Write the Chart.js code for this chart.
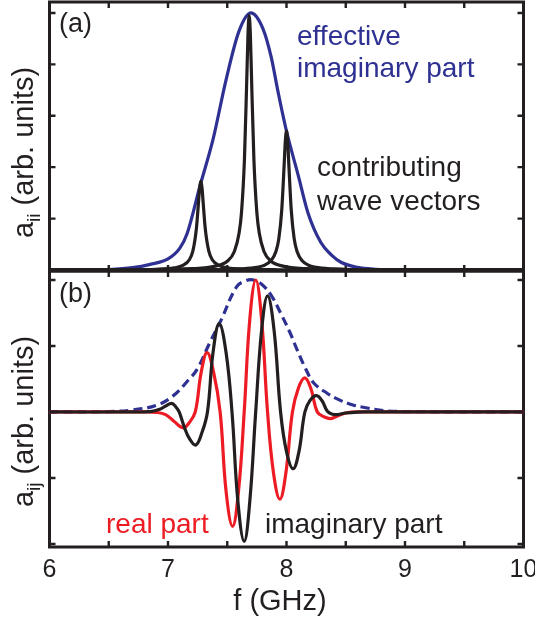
<!DOCTYPE html>
<html>
<head>
<meta charset="utf-8">
<script src="https://cdn.jsdelivr.net/npm/chart.js@4.4.1/dist/chart.umd.min.js"></script>
<style>
  html, body { margin: 0; padding: 0; background: #ffffff; }
  #wrap { position: relative; width: 535px; height: 621px; }
  #wrap canvas { position: absolute; left: 0; top: 0; }
</style>
</head>
<body>
<div id="wrap">
  <canvas id="panelA" width="535" height="621"></canvas>
  <canvas id="panelB" width="535" height="621"></canvas>
</div>
<script>
// ---------- panel (a): effective imaginary part and contributing wave vectors ----------
const effFreq = [6.0, 6.3, 6.5, 6.7, 6.85, 7.0, 7.1, 7.16, 7.27, 7.38, 7.49, 7.6, 7.7, 7.8, 7.87, 7.93, 8.0, 8.1, 8.18, 8.29, 8.38, 8.46, 8.6, 8.75, 9.0, 10.0, 10.1];
const effImag = [0, 0.0005, 0.002, 0.009, 0.022, 0.043, 0.085, 0.14, 0.327, 0.508, 0.74, 0.93, 1.0, 0.94, 0.83, 0.69, 0.54, 0.366, 0.224, 0.107, 0.058, 0.03, 0.01, 0.003, 0.0005, 0, 0];

const k1Freq = [6.0, 6.6, 6.9, 7.05, 7.13, 7.18, 7.21, 7.24, 7.257, 7.267, 7.277, 7.287, 7.297, 7.314, 7.344, 7.374, 7.424, 7.504, 7.654, 7.95, 8.6, 10.0];
const k1Val  = [0.0003, 0.001, 0.003, 0.008, 0.019, 0.04, 0.074, 0.163, 0.261, 0.32, 0.346, 0.32, 0.261, 0.163, 0.074, 0.04, 0.019, 0.008, 0.003, 0.001, 0.0003, 0.0001];

const k2Freq = [6.0, 6.8, 7.2, 7.4, 7.5, 7.56, 7.6, 7.62, 7.645, 7.665, 7.675, 7.685, 7.695, 7.705, 7.725, 7.75, 7.77, 7.81, 7.87, 7.97, 8.17, 8.57, 10.0];
const k2Val  = [0.0004, 0.0015, 0.005, 0.015, 0.034, 0.072, 0.144, 0.222, 0.429, 0.746, 0.916, 0.99, 0.916, 0.746, 0.429, 0.222, 0.144, 0.072, 0.034, 0.015, 0.005, 0.0015, 0.0002];

const k3Freq = [6.0, 7.2, 7.5, 7.7, 7.8, 7.87, 7.91, 7.935, 7.96, 7.98, 7.99, 8.0, 8.01, 8.02, 8.04, 8.065, 8.09, 8.13, 8.2, 8.3, 8.5, 8.8, 10.0];
const k3Val  = [0.0002, 0.001, 0.0026, 0.0072, 0.016, 0.0365, 0.071, 0.121, 0.234, 0.407, 0.5, 0.54, 0.5, 0.407, 0.234, 0.121, 0.071, 0.0365, 0.016, 0.0072, 0.0026, 0.001, 0.0002];

// ---------- panel (b): real and imaginary part, with envelope ----------
const envFreq = [6.0, 6.5, 6.7, 6.9, 7.04, 7.17, 7.25, 7.35, 7.45, 7.58, 7.66, 7.72, 7.8, 7.88, 7.95, 8.03, 8.09, 8.16, 8.23, 8.34, 8.45, 8.56, 8.68, 8.8, 9.0, 10.0];
const envVal  = [0, 0.003, 0.015, 0.05, 0.12, 0.24, 0.33, 0.52, 0.7, 0.95, 0.995, 1.0, 0.96, 0.87, 0.75, 0.6, 0.47, 0.33, 0.22, 0.144, 0.09, 0.053, 0.03, 0.012, 0.003, 0];

const reFreq = [6.0, 6.8, 6.9, 6.98, 7.05, 7.128, 7.18, 7.23, 7.28, 7.33, 7.385, 7.44, 7.49, 7.545, 7.595, 7.643, 7.69, 7.741, 7.79, 7.84, 7.89, 7.944, 7.995, 8.05, 8.1, 8.154, 8.205, 8.26, 8.32, 8.374, 8.43, 8.5, 8.6, 10.0];
const reVal  = [0, 0, -0.003, -0.02, -0.07, -0.12, -0.08, 0, 0.3, 0.45, 0.3, 0, -0.6, -0.866, -0.6, 0, 0.7, 1.0, 0.7, 0, -0.46, -0.66, -0.46, 0, 0.18, 0.258, 0.18, 0, -0.038, -0.05, -0.03, -0.008, 0, 0];

const imFreq = [6.0, 6.7, 6.85, 6.93, 6.98, 7.03, 7.065, 7.094, 7.14, 7.18, 7.235, 7.285, 7.333, 7.38, 7.432, 7.49, 7.54, 7.59, 7.643, 7.69, 7.74, 7.79, 7.84, 7.895, 7.95, 8.0, 8.056, 8.105, 8.155, 8.2, 8.253, 8.3, 8.345, 8.39, 8.43, 8.5, 8.6, 8.7, 10.0];
const imVal  = [0, 0, 0.003, 0.02, 0.045, 0.065, 0.04, 0, -0.12, -0.2, -0.25, -0.16, 0, 0.45, 0.67, 0.45, 0, -0.68, -0.98, -0.68, 0, 0.62, 0.88, 0.62, 0, -0.3, -0.43, -0.3, 0, 0.09, 0.124, 0.085, 0.005, -0.018, -0.02, -0.008, -0.001, 0, 0];

// ---------- axes ----------
const xTickLabels = [6, 7, 8, 9, 10];
const xTickMarks = [6.5, 7, 7.5, 8, 8.5, 9, 9.5];
const yTickMarksA = [0.2, 0.4, 0.6, 0.8, 1.0];
const yTickMarksB = [-1, -0.5, 0, 0.5, 1];

const INK = '#231f20';
const BLUE = '#2e3192';
const RED = '#ed1c24';
const FONT = '"Liberation Sans", Arial, Helvetica, sans-serif';

const pts = (xs, ys) => xs.map((x, i) => ({ x: x, y: ys[i] }));

function lineSet(xs, ys, color, extra) {
  return Object.assign({
    data: pts(xs, ys),
    borderColor: color,
    borderWidth: 3.2,
    pointRadius: 0,
    fill: false,
    cubicInterpolationMode: 'monotone',
    tension: 0.4,
    borderJoinStyle: 'round',
    borderCapStyle: 'butt',
    clip: false
  }, extra || {});
}

function drawYTitle(ctx, bx, cy, main, sub, rest) {
  const big = '29px ' + FONT, small = '19px ' + FONT;
  ctx.save();
  ctx.translate(bx, cy);
  ctx.rotate(-Math.PI / 2);
  ctx.font = big;
  const w1 = ctx.measureText(main).width;
  const w3 = ctx.measureText(rest).width;
  ctx.font = small;
  const w2 = ctx.measureText(sub).width;
  const x0 = -(w1 + w2 + w3) / 2;
  ctx.fillStyle = INK;
  ctx.textBaseline = 'alphabetic';
  ctx.textAlign = 'left';
  ctx.font = big; ctx.fillText(main, x0, 0);
  ctx.font = small; ctx.fillText(sub, x0 + w1, 7);
  ctx.font = big; ctx.fillText(rest, x0 + w1 + w2, 0);
  ctx.restore();
}

function text(ctx, s, x, y, color, size, align) {
  ctx.save();
  ctx.font = size + 'px ' + FONT;
  ctx.fillStyle = color;
  ctx.textAlign = align || 'left';
  ctx.textBaseline = 'alphabetic';
  ctx.fillText(s, x, y);
  ctx.restore();
}

function framePlugin(id, yTicks, drawTexts) {
  return {
    id: id,
    beforeDatasetsDraw(chart) {
      const ctx = chart.ctx, a = chart.chartArea, x = chart.scales.x, y = chart.scales.y;
      ctx.save();
      ctx.strokeStyle = INK;
      ctx.lineWidth = 3;
      ctx.strokeRect(a.left, a.top, a.right - a.left, a.bottom - a.top);
      ctx.lineWidth = 2.4;
      ctx.beginPath();
      xTickMarks.forEach(v => {
        const px = x.getPixelForValue(v);
        ctx.moveTo(px, a.top); ctx.lineTo(px, a.top + 6);
        ctx.moveTo(px, a.bottom); ctx.lineTo(px, a.bottom - 6);
      });
      yTicks.forEach(v => {
        const py = y.getPixelForValue(v);
        ctx.moveTo(a.left, py); ctx.lineTo(a.left + 6, py);
        ctx.moveTo(a.right, py); ctx.lineTo(a.right - 6, py);
      });
      ctx.stroke();
      ctx.restore();
    },
    afterDraw(chart) { drawTexts(chart); }
  };
}

function baseOptions(padding, yMin, yMax) {
  return {
    responsive: false,
    animation: false,
    devicePixelRatio: 1,
    layout: { padding: padding },
    plugins: { legend: { display: false }, tooltip: { enabled: false } },
    scales: {
      x: { type: 'linear', min: 6, max: 10, display: false },
      y: { type: 'linear', min: yMin, max: yMax, display: false }
    }
  };
}

// panel (a)
new Chart(document.getElementById('panelA'), {
  type: 'line',
  data: {
    datasets: [
      lineSet(k1Freq, k1Val, INK),
      lineSet(k2Freq, k2Val, INK),
      lineSet(k3Freq, k3Val, INK),
      lineSet(effFreq, effImag, BLUE)
    ]
  },
  options: baseOptions({ left: 49.5, right: 11.5, top: 2, bottom: 350 }, -0.0039, 1.0425),
  plugins: [framePlugin('frameA', yTickMarksA, chart => {
    const ctx = chart.ctx;
    text(ctx, '(a)', 59, 32, INK, 27);
    text(ctx, 'effective', 297, 45, BLUE, 28);
    text(ctx, 'imaginary part', 297, 77, BLUE, 28);
    text(ctx, 'contributing', 317, 176, INK, 28);
    text(ctx, 'wave vectors', 317, 210, INK, 28);
    drawYTitle(ctx, 33.3, 152.5, 'a', 'ii', ' (arb. units)');
  })]
});

// panel (b): plain cubic smoothing keeps the oscillations round
const smooth = { cubicInterpolationMode: 'default', tension: 0.4 };
new Chart(document.getElementById('panelB'), {
  type: 'line',
  data: {
    datasets: [
      lineSet(imFreq, imVal, INK, smooth),
      lineSet(reFreq, reVal, RED, smooth),
      lineSet(envFreq, envVal, BLUE, Object.assign({ borderDash: [9, 5] }, smooth))
    ]
  },
  options: baseOptions({ left: 49.5, right: 11.5, top: 271, bottom: 74 }, -1.023, 1.068),
  plugins: [framePlugin('frameB', yTickMarksB, chart => {
    const ctx = chart.ctx, x = chart.scales.x;
    text(ctx, '(b)', 59, 301.5, INK, 27);
    text(ctx, 'real part', 106, 533, RED, 28);
    text(ctx, 'imaginary part', 265, 533, INK, 28);
    xTickLabels.forEach(v => text(ctx, String(v), x.getPixelForValue(v), 577, INK, 25, 'center'));
    text(ctx, 'f (GHz)', 280, 610, INK, 29, 'center');
    drawYTitle(ctx, 33.3, 421.5, 'a', 'ij', ' (arb. units)');
  })]
});
</script>
</body>
</html>
